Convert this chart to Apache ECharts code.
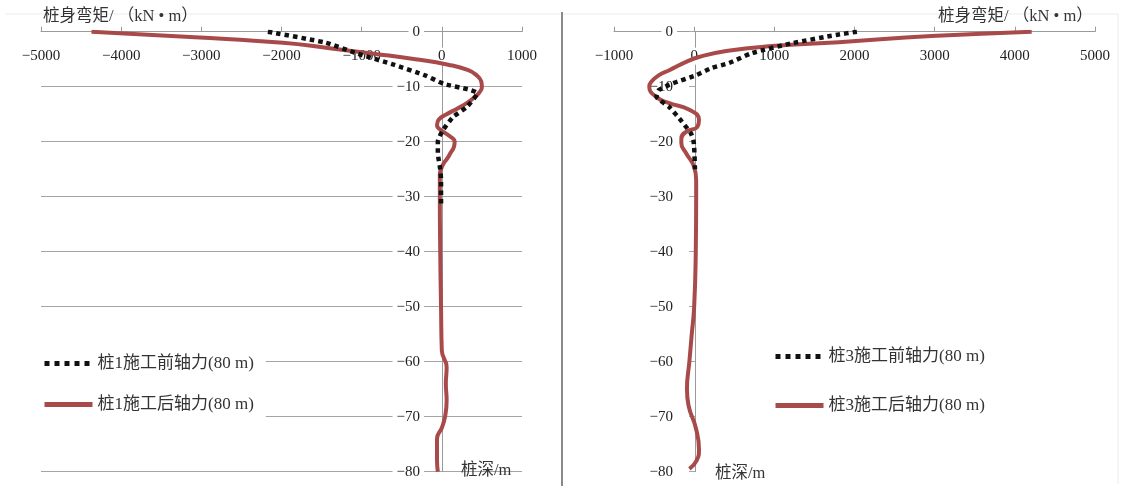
<!DOCTYPE html>
<html>
<head>
<meta charset="utf-8">
<script src="https://cdn.jsdelivr.net/npm/echarts@6/dist/echarts.min.js"></script>
<style>
html, body { margin: 0; background: #fff; }
#chart { width: 1133px; height: 490px; }
</style>
</head>
<body>
<div id="chart"></div>
<script>
// pile 1 (left) - depth in m, bending moment in kN·m
const pile1BeforeDepth  = [0, -2, -4, -6, -8, -9.5, -10.5, -11.2, -13.7, -15.5, -18, -20, -22, -25, -27, -32];
const pile1BeforeMoment = [-2170, -1450, -1050, -600, -200, 30, 330, 440, 310, 140, 10, -50, -50, -20, -10, -10];

const pile1AfterDepth  = [0, -1, -2, -3, -4, -5, -6, -7, -8, -9, -10, -11, -12, -13, -14, -15, -16, -17, -18, -19, -20, -21, -22, -23, -24, -25, -26, -30, -40, -50, -58, -61, -64, -67, -70, -72, -74, -78, -80];
const pile1AfterMoment = [-4370, -3080, -1980, -1400, -850, -330, 80, 330, 440, 490, 500, 470, 400, 310, 190, 60, -40, -60, 0, 100, 160, 150, 110, 70, 20, -10, -25, -25, -20, -10, 0, 60, 50, 60, 40, 0, -60, -60, -50];

// pile 3 (right)
const pile3BeforeDepth  = [0, -0.6, -2.1, -3.9, -5.7, -6.6, -7.9, -9.4, -10.6, -11.8, -13.7, -16.4, -18.5, -19.7, -21, -25];
const pile3BeforeMoment = [2030, 1770, 1220, 720, 435, 220, 25, -270, -440, -470, -310, -150, -40, -10, 0, 10];

const pile3AfterDepth  = [0, -0.8, -1.9, -2.6, -3.5, -4.6, -5.5, -7, -7.9, -9.1, -10, -11.9, -13, -14.2, -16, -17.3, -18.2, -19.4, -20.3, -22.1, -24.6, -27, -30, -40, -50, -55, -60, -65, -68, -72, -76, -78, -79.5];
const pile3AfterMoment = [4210, 2960, 1805, 970, 400, 60, -100, -310, -440, -535, -560, -470, -310, -60, 60, 40, -100, -160, -160, -100, 0, 25, 25, 20, 0, -30, -60, -90, -70, 20, 60, 30, -60];

const leftNames = ['桩1施工前轴力(80 m)', '桩1施工后轴力(80 m)'];
const rightNames = ['桩3施工前轴力(80 m)', '桩3施工后轴力(80 m)'];
const momentTitle = '桩身弯矩/ （kN • m）';
const depthTitle = '桩深/m';

const pairs = (xs, ys) => xs.map((x, i) => [x, ys[i]]);
const fmt = v => String(v).replace('-', '−');
const font = "'Liberation Serif', 'Noto Sans CJK SC', serif";
const red = '#a84a4a';

const dotted = { color: '#111', width: 4.5, type: [4.5, 4], cap: 'butt' };
const solid = { color: red, width: 4 };

const chart = echarts.init(document.getElementById('chart'));

const xAxisBase = {
  type: 'value',
  position: 'top',
  interval: 1000,
  axisLine: { lineStyle: { color: '#9a9a9a' } },
  axisTick: { show: true, length: 5, lineStyle: { color: '#9a9a9a' } },
  axisLabel: { inside: true, margin: 16, formatter: fmt, fontFamily: font, fontSize: 15, color: '#222', backgroundColor: '#fff', padding: [1, 3] },
  splitLine: { show: false }
};
const yAxisBase = {
  type: 'value',
  position: 'left',
  min: -80, max: 0, interval: 10,
  axisLine: { onZero: false, lineStyle: { color: '#9a9a9a' } },
  axisLabel: { margin: 18, formatter: fmt, fontFamily: font, fontSize: 15, color: '#222', backgroundColor: '#fff', padding: [2, 4] }
};

const titleText = { fontFamily: font, fontSize: 16.5, fontWeight: 'normal', color: '#333' };
const legendText = { fontFamily: font, fontSize: 17, color: '#333' };
const legendItems = names => [
  { name: names[0], itemStyle: { opacity: 0 }, lineStyle: { color: '#111', width: 5, type: [5, 5], cap: 'butt' } },
  { name: names[1], itemStyle: { opacity: 0 }, lineStyle: { color: red, width: 5 } }
];

chart.setOption({
  animation: false,
  backgroundColor: '#fff',
  title: [
    { text: momentTitle, left: 38, top: 3, textStyle: titleText },
    { text: momentTitle, left: 933, top: 3, textStyle: titleText },
    { text: depthTitle, left: 456, top: 457, textStyle: titleText },
    { text: depthTitle, left: 710, top: 460, textStyle: titleText }
  ],
  legend: [
    { data: legendItems(leftNames), orient: 'vertical', left: 37, top: 350, padding: [5, 12, 5, 5], backgroundColor: '#fff',
      itemWidth: 48, itemHeight: 14, itemGap: 24, textStyle: legendText },
    { data: legendItems(rightNames), orient: 'vertical', left: 773, top: 348, padding: 0, itemWidth: 48, itemHeight: 14, itemGap: 32,
      textStyle: legendText }
  ],
  grid: [
    { left: 41, right: 611, top: 31.7, height: 440, outerBoundsMode: 'none' },
    { left: 614, right: 38, top: 31.7, height: 440, outerBoundsMode: 'none' }
  ],
  xAxis: [
    Object.assign({}, xAxisBase, { gridIndex: 0, min: -5000, max: 1000 }),
    Object.assign({}, xAxisBase, { gridIndex: 1, min: -1000, max: 5000 })
  ],
  yAxis: [
    // axis moved onto x = 0 of each chart
    Object.assign({}, yAxisBase, { gridIndex: 0, offset: -401, axisTick: { show: false },
      splitLine: { show: true, lineStyle: { color: '#a4a4a4', width: 1 } } }),
    Object.assign({}, yAxisBase, { gridIndex: 1, offset: -81, axisTick: { show: true, length: 6, lineStyle: { color: '#a8a8a8' } },
      splitLine: { show: false } })
  ],
  series: [
    { name: leftNames[0], type: 'line', xAxisIndex: 0, yAxisIndex: 0, symbol: 'none', smooth: 0.2, z: 4,
      data: pairs(pile1BeforeMoment, pile1BeforeDepth), lineStyle: dotted, itemStyle: { color: '#111' } },
    { name: leftNames[1], type: 'line', xAxisIndex: 0, yAxisIndex: 0, symbol: 'none', smooth: 0.5, z: 3,
      data: pairs(pile1AfterMoment, pile1AfterDepth), lineStyle: solid, itemStyle: { color: red } },
    { name: rightNames[0], type: 'line', xAxisIndex: 1, yAxisIndex: 1, symbol: 'none', smooth: 0.2, z: 4,
      data: pairs(pile3BeforeMoment, pile3BeforeDepth), lineStyle: dotted, itemStyle: { color: '#111' } },
    { name: rightNames[1], type: 'line', xAxisIndex: 1, yAxisIndex: 1, symbol: 'none', smooth: 0.5, z: 3,
      data: pairs(pile3AfterMoment, pile3AfterDepth), lineStyle: solid, itemStyle: { color: red } }
  ],
  graphic: [
    { type: 'line', shape: { x1: 5, y1: 14, x2: 560, y2: 14 }, style: { stroke: '#ececec', lineWidth: 1 }, silent: true },
    { type: 'line', shape: { x1: 562, y1: 14, x2: 1118, y2: 14 }, style: { stroke: '#ececec', lineWidth: 1 }, silent: true },
    { type: 'line', shape: { x1: 1118, y1: 14, x2: 1118, y2: 484 }, style: { stroke: '#ececec', lineWidth: 1 }, silent: true },
    { type: 'line', shape: { x1: 562, y1: 12, x2: 562, y2: 486 }, style: { stroke: '#8a8a8a', lineWidth: 2 }, silent: true }
  ]
});
</script>
</body>
</html>
